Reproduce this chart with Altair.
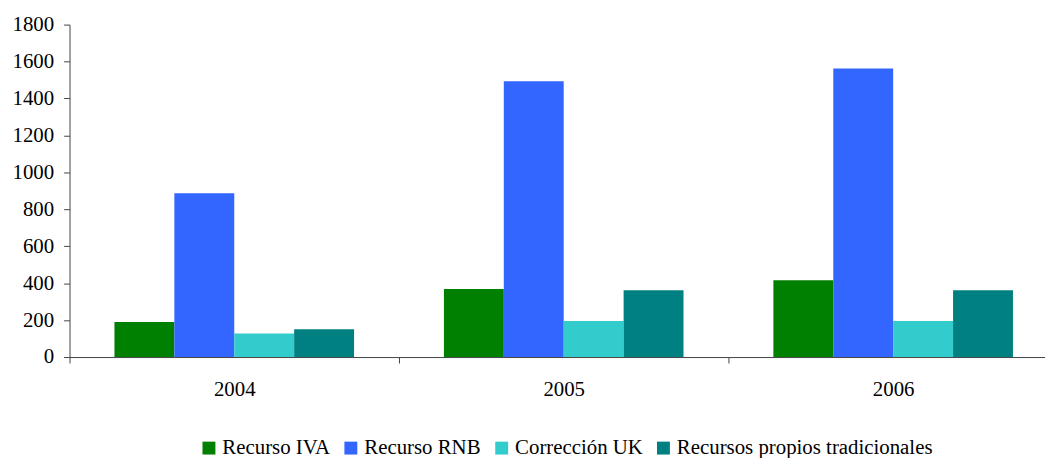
import altair as alt
import pandas as pd

years = ["2004", "2005", "2006"]
series = ["Recurso IVA", "Recurso RNB", "Corrección UK", "Recursos propios tradicionales"]
colors = ["#008000", "#3366FF", "#33CCCC", "#008080"]
iva = [190, 368, 416]
rnb = [887, 1493, 1563]
uk = [127, 195, 195]
rpt = [151, 361, 361]

rows = []
for vals, s in zip([iva, rnb, uk, rpt], series):
    for y, v in zip(years, vals):
        rows.append({"year": y, "serie": s, "valor": v})
df = pd.DataFrame(rows)

FONT = "Liberation Serif, Times New Roman, serif"

chart = alt.Chart(df).mark_bar().encode(
    x=alt.X("year:N", sort=years,
            scale=alt.Scale(range=[0, 996], paddingInner=0, paddingOuter=0),
            axis=alt.Axis(title=None, labelAngle=0, tickBand="extent", tickSize=6,
                          labelPadding=16, labelFontSize=21, labelFont=FONT,
                          labelColor="black", domainColor="#444", tickColor="#444",
                          grid=False)),
    xOffset=alt.XOffset("serie:N", sort=series,
                        scale=alt.Scale(paddingInner=0, paddingOuter=0.75)),
    y=alt.Y("valor:Q", scale=alt.Scale(domain=[0, 1800], nice=False),
            axis=alt.Axis(title=None, values=list(range(0, 1801, 200)), format="d",
                          tickSize=6, labelPadding=10, labelFontSize=21, labelFont=FONT,
                          labelColor="black", domainColor="#444", tickColor="#444",
                          grid=False)),
    color=alt.Color("serie:N", sort=series,
                    scale=alt.Scale(domain=series, range=colors),
                    legend=alt.Legend(title=None, orient="none", direction="horizontal",
                                      legendX=130, legendY=416, symbolType="square",
                                      symbolSize=169, symbolStrokeWidth=0,
                                      labelFontSize=21, labelFont=FONT, labelColor="black",
                                      labelOffset=3, columnPadding=10,
                                      labelLimit=400)),
).properties(
    width=983, height=335,
    autosize=alt.AutoSizeParams(type="none"),
    padding={"left": 62, "top": 15, "right": 0, "bottom": 100},
).configure_view(stroke=None)

chart.save("out.html", embed_options={"renderer": "svg", "actions": False})
